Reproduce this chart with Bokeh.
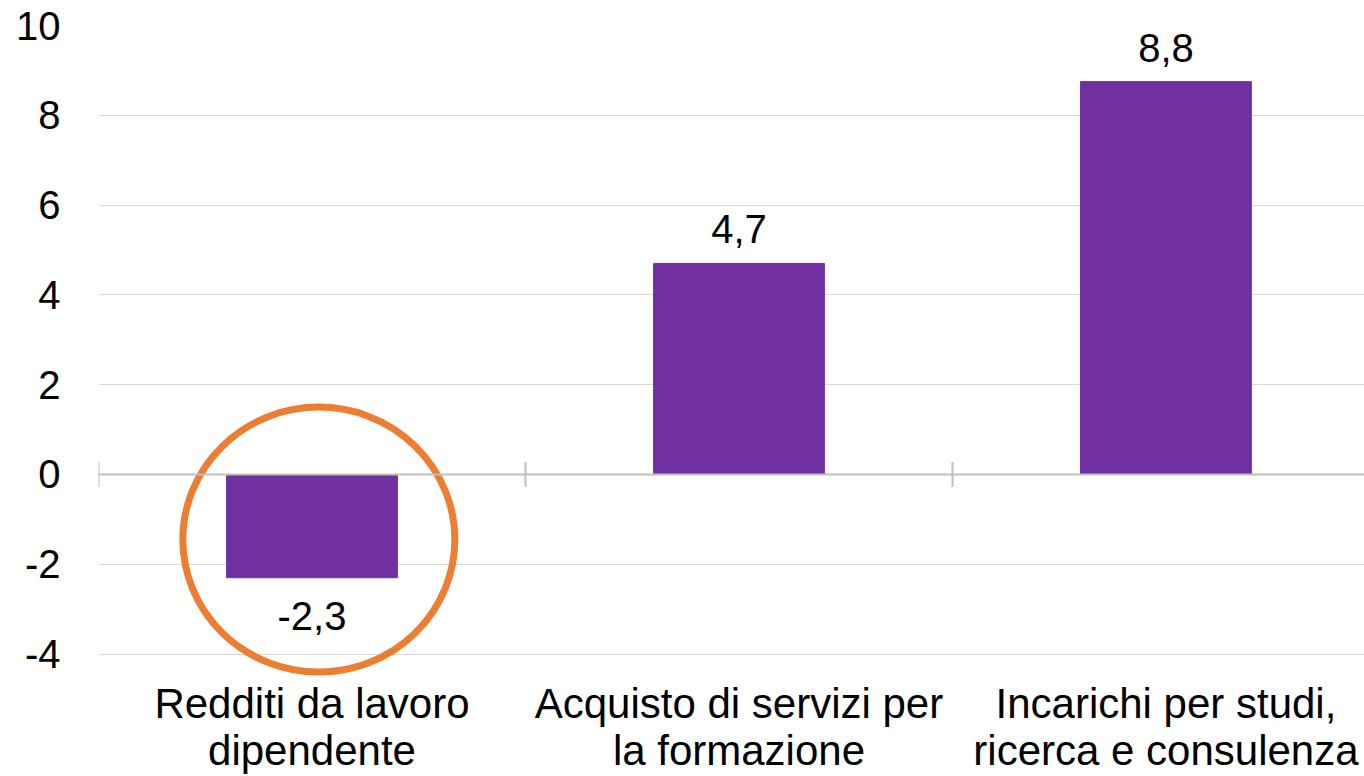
from bokeh.plotting import figure
from bokeh.models import Range1d, FixedTicker, Span, ColumnDataSource, LabelSet
from bokeh.core.properties import value
from bokeh.embed import file_html
from bokeh.resources import INLINE

# ---- data ----
categories = ["Redditi da lavoro\ndipendente",
              "Acquisto di servizi per\nla formazione",
              "Incarichi per studi,\nricerca e consulenza"]
values = [-2.3, 4.7, 8.75]
y_ticks = [-4, -2, 0, 2, 4, 6, 8, 10]

FONT = "Liberation Sans"
BAR_COLOR = "#7030A0"
HIGHLIGHT = "#ED7D31"

n = len(categories)
centers = [i + 0.5 for i in range(n)]
boundaries = list(range(n + 1))
labels = [f"{v:.1f}".replace(".", ",") for v in values]
offsets = [20 if v >= 0 else -52 for v in values]

p = figure(width=1364, height=776, output_backend="svg", toolbar_location=None,
           x_range=Range1d(0, 2.965), y_range=Range1d(-4.5, 10),
           min_border_left=98, min_border_right=0, min_border_top=25,
           min_border_bottom=0)
p.outline_line_color = None
p.background_fill_color = "white"
p.border_fill_color = "white"

# grid
p.xgrid.visible = False
p.ygrid.ticker = FixedTicker(ticks=y_ticks)
p.ygrid.grid_line_color = "#D9D9D9"
p.ygrid.grid_line_width = 1

# y axis
p.yaxis.ticker = FixedTicker(ticks=y_ticks)
p.yaxis.major_label_overrides = {t: str(t) for t in y_ticks}
p.yaxis.axis_line_color = None
p.yaxis.major_tick_line_color = None
p.yaxis.minor_tick_line_color = None
p.yaxis.major_tick_out = 0
p.yaxis.major_tick_in = 0
p.yaxis.major_label_standoff = 38
p.yaxis.major_label_text_font = FONT
p.yaxis.major_label_text_font_size = "40px"
p.yaxis.major_label_text_color = "black"

# x axis (category labels)
p.xaxis.ticker = FixedTicker(ticks=centers)
p.xaxis.major_label_overrides = {c: lab for c, lab in zip(centers, categories)}
p.xaxis.axis_line_color = None
p.xaxis.major_tick_line_color = None
p.xaxis.minor_tick_line_color = None
p.xaxis.major_tick_out = 0
p.xaxis.major_tick_in = 0
p.xaxis.major_label_standoff = 3
p.xaxis.major_label_text_font = FONT
p.xaxis.major_label_text_font_size = "42px"
p.xaxis.major_label_text_color = "black"
p.xaxis.major_label_text_line_height = 1.0

# bars
src = ColumnDataSource(dict(x=centers, top=values, text=labels, off=offsets))
p.vbar(x="x", top="top", bottom=0, width=0.4, source=src,
       fill_color=BAR_COLOR, line_color=BAR_COLOR)

# zero line and category boundary ticks
p.add_layout(Span(location=0, dimension="width", line_color="#BFBFBF", line_width=2))
p.scatter(x=boundaries, y=[0] * len(boundaries), marker="dash", angle=1.5708,
          size=25, line_color="#BFBFBF", line_width=2)

# data labels
p.add_layout(LabelSet(x="x", y="top", text="text", y_offset="off", source=src,
                      text_align="center", text_baseline="alphabetic",
                      text_font=value(FONT), text_font_size=value("40px"),
                      text_color="black"))

# highlight circle around the negative bar
p.ellipse(x=[centers[0] + 0.016], y=[-1.45], width=272, height=265,
          width_units="screen", height_units="screen",
          fill_alpha=0, line_color=HIGHLIGHT, line_width=7)

open("out.html", "w").write(file_html(p, INLINE))
